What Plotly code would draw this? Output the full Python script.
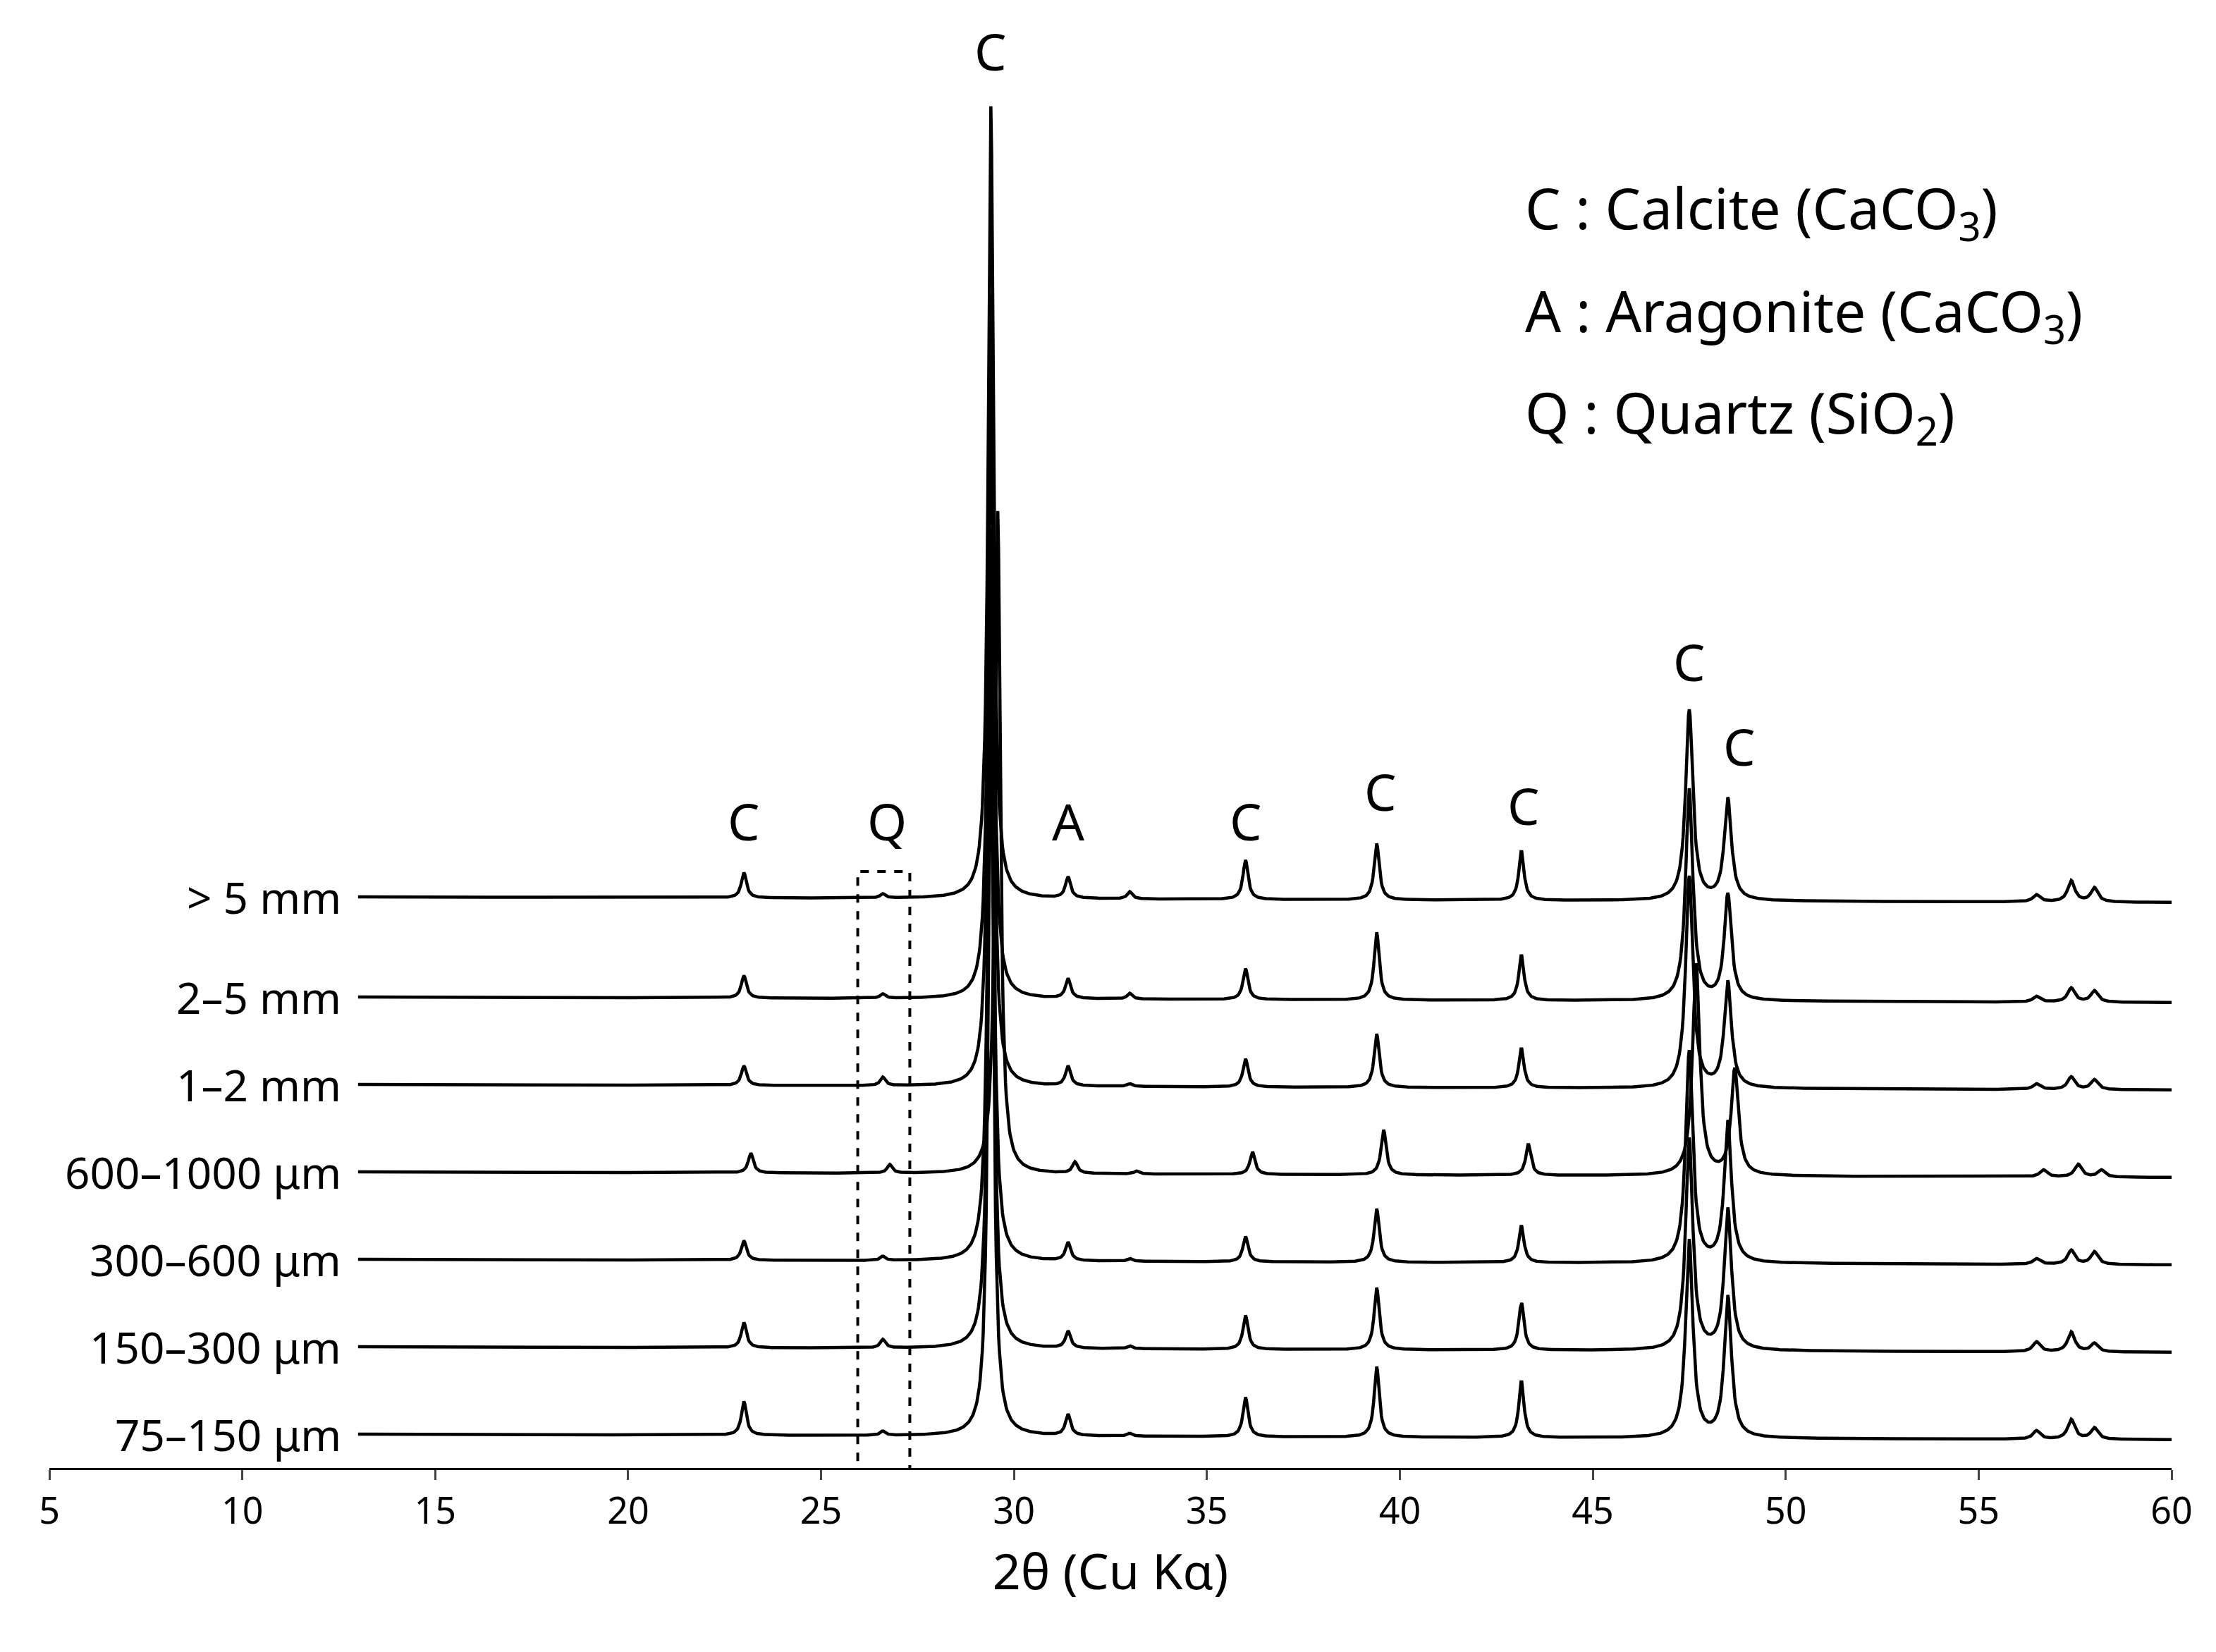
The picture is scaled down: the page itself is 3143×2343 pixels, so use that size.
import numpy as np
import plotly.graph_objects as go

labels = ["75–150 μm", "150–300 μm", "300–600 μm", "600–1000 μm", "1–2 mm", "2–5 mm", "> 5 mm"]
baselines = [24, 86, 148, 210, 272, 334, 405]
peak_pos = [23.0, 26.6, 29.4, 31.4, 33.0, 36.0, 39.4, 43.15, 47.5, 48.5, 56.5, 57.4, 58.0]
heights = {
    "75–150 μm":   [24, 3, 520, 15, 2, 28, 50, 40, 140, 100, 6, 14, 8],
    "150–300 μm":  [18, 6, 500, 12, 2, 24, 44, 34, 150, 100, 7, 14, 6],
    "300–600 μm":  [14, 3, 520, 13, 2, 18, 38, 26, 150, 100, 4, 10, 9],
    "600–1000 μm": [14, 6, 470, 8, 2, 16, 32, 22, 150, 75, 5, 9, 5],
    "1–2 mm":      [14, 6, 500, 14, 2, 20, 38, 28, 150, 75, 4, 9, 7],
    "2–5 mm":      [16, 3, 500, 14, 4, 22, 48, 32, 150, 75, 4, 10, 8],
    "> 5 mm":      [18, 3, 562, 15, 5, 28, 40, 35, 135, 72, 5, 15, 10],
}
shift = {"600–1000 μm": 0.18}
fwhm = 0.16

fig = go.Figure()
x = np.arange(13.0, 60.001, 0.02)
for lab, base in zip(labels, baselines):
    y = base - 4 * (x - 13) / 47
    s = shift.get(lab, 0.0)
    for p, h in zip(peak_pos, heights[lab]):
        w = fwhm * (1.4 if p > 45 else 1.0)
        y = y + h / (1 + ((x - p - s) / (w / 2)) ** 2)
    fig.add_trace(go.Scatter(x=x, y=y, mode="lines", line=dict(color="black", width=4.5),
                             showlegend=False, hoverinfo="skip"))
    fig.add_annotation(x=12.6, y=base, text=lab, showarrow=False, xanchor="right",
                       yanchor="middle", font=dict(size=62, color="black"))

pk_labels = ["C", "Q", "A", "C", "C", "C", "C", "C", "C"]
pk_x = [23.0, 26.7, 31.4, 36.0, 39.5, 43.2, 29.4, 47.5, 48.8]
pk_y = [459, 459, 459, 459, 480, 470, 1005, 572, 512]
for t, px, py in zip(pk_labels, pk_x, pk_y):
    fig.add_annotation(x=px, y=py, text=t, showarrow=False, font=dict(size=72, color="black"))

legend_lines = ["C : Calcite (CaCO<sub>3</sub>)", "A : Aragonite (CaCO<sub>3</sub>)", "Q : Quartz (SiO<sub>2</sub>)"]
legend_y = [892, 819, 747]
for t, ly in zip(legend_lines, legend_y):
    fig.add_annotation(x=43.2, y=ly, text=t, showarrow=False, xanchor="left",
                       font=dict(size=80, color="black"))

fig.add_shape(type="rect", x0=25.95, x1=27.3, y0=-3, y1=423,
              line=dict(color="black", width=4, dash="dash"))

fig.update_layout(
    width=3143, height=2343, plot_bgcolor="white", paper_bgcolor="white",
    margin=dict(l=62, r=71, t=0, b=269),
    font=dict(family="Noto Sans", color="black"),
    xaxis=dict(range=[5, 60], tickvals=list(range(5, 61, 5)), ticks="outside", ticklen=14,
               tickwidth=3, showline=True, linecolor="black", linewidth=3, showgrid=False,
               zeroline=False, tickfont=dict(size=52),
               title=dict(text="2θ (Cu Kα)", font=dict(size=70), standoff=30)),
    yaxis=dict(range=[0, 1037], visible=False),
)
fig.write_html("out.html")
